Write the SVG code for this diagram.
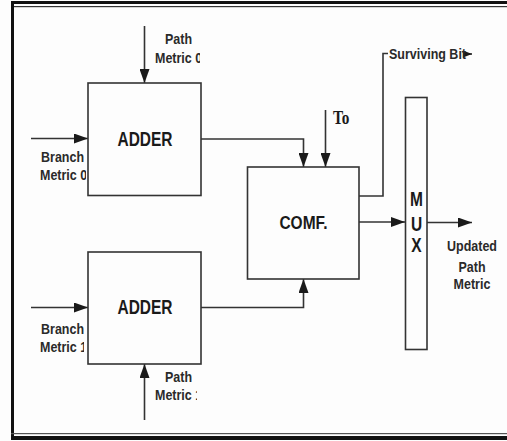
<svg xmlns="http://www.w3.org/2000/svg" width="507" height="441" viewBox="0 0 507 441">
<style>
.box{fill:none;stroke:#333;stroke-width:1.6}
.wire{fill:none;stroke:#333;stroke-width:1.6}
.lbl{font-family:"Liberation Sans",Arial,sans-serif;font-weight:bold;font-size:12.5px;fill:#2a2a2a}
.big{font-family:"Liberation Sans",Arial,sans-serif;font-weight:bold;font-size:15.5px;fill:#1a1a1a;text-anchor:middle}
.ser{font-family:"Liberation Serif","Times New Roman",serif;font-weight:bold;font-size:18px;fill:#1a1a1a}
</style>
<defs>
<marker id="ah" viewBox="0 0 14 10" markerWidth="14" markerHeight="10" refX="14" refY="5" orient="auto" markerUnits="userSpaceOnUse"><path d="M0,0 L14,5 L0,10 z" fill="#1a1a1a"/></marker>
<marker id="ahs" viewBox="0 0 9 7" markerWidth="9" markerHeight="7" refX="9" refY="3.5" orient="auto" markerUnits="userSpaceOnUse"><path d="M0,0 L9,3.5 L0,7 z" fill="#1a1a1a"/></marker>
<clipPath id="cPM0"><rect x="150" y="25" width="50" height="45"/></clipPath>
<clipPath id="cBM0"><rect x="30" y="145" width="56" height="45"/></clipPath>
<clipPath id="cBM1"><rect x="30" y="318" width="54" height="45"/></clipPath>
<clipPath id="cPM1"><rect x="150" y="368" width="47" height="45"/></clipPath>
</defs>
<rect width="507" height="441" fill="#fdfdfd"/>
<g id="frame">
<rect x="11" y="1" width="496" height="3" fill="#111"/>
<rect x="11" y="6" width="496" height="1.2" fill="#333"/>
<rect x="11" y="1" width="3" height="439" fill="#111"/>
<rect x="11" y="433" width="496" height="1.2" fill="#555"/>
<rect x="11" y="436" width="496" height="4" fill="#111"/>
</g>
<g id="connectors">
<line class="wire" x1="144.5" y1="26" x2="144.5" y2="83" marker-end="url(#ah)"/>
<line class="wire" x1="31" y1="138.5" x2="88" y2="138.5" marker-end="url(#ah)"/>
<polyline class="wire" points="201,139 303.5,139 303.5,167" marker-end="url(#ah)"/>
<line class="wire" x1="325.5" y1="110" x2="325.5" y2="167" marker-end="url(#ah)"/>
<line class="wire" x1="31" y1="307.5" x2="88" y2="307.5" marker-end="url(#ah)"/>
<line class="wire" x1="144.5" y1="420" x2="144.5" y2="364" marker-end="url(#ah)"/>
<polyline class="wire" points="201,307.5 303.5,307.5 303.5,279" marker-end="url(#ah)"/>
<polyline class="wire" points="359,196 383,196 383,53.5 388,53.5"/>
<line class="wire" x1="465" y1="54" x2="472" y2="54" marker-end="url(#ahs)"/>
<line class="wire" x1="359" y1="222" x2="405" y2="222" marker-end="url(#ah)"/>
<line class="wire" x1="427" y1="222.5" x2="472" y2="222.5" marker-end="url(#ah)"/>
</g>
<g id="adder0">
<rect class="box" x="88" y="83" width="113" height="112.5"/>
<text class="big" transform="translate(145,145.5) scale(1,1.25)">ADDER</text>
</g>
<g id="adder1">
<rect class="box" x="88" y="252" width="113" height="112"/>
<text class="big" transform="translate(145,313.5) scale(1,1.25)">ADDER</text>
</g>
<g id="comp">
<rect class="box" x="247.5" y="167" width="111.5" height="112"/>
<text class="big" font-size="16" transform="translate(303.5,228.5) scale(1,1.2)">COMF.</text>
</g>
<g id="mux">
<rect class="box" x="405.5" y="97.5" width="21.5" height="252"/>
<text class="big" transform="translate(416.5,205.5) scale(1,1.25)">M</text>
<text class="big" transform="translate(416.5,230.5) scale(1,1.25)">U</text>
<text class="big" transform="translate(416.5,251.5) scale(1,1.25)">X</text>
</g>
<g id="labels">
<g clip-path="url(#cPM0)">
<text class="lbl" transform="translate(165,43.5) scale(1,1.1)">Path</text>
<text class="lbl" transform="translate(155,63) scale(1,1.1)">Metric 0</text>
</g>
<g clip-path="url(#cBM0)">
<text class="lbl" transform="translate(41,162) scale(1,1.1)">Branch</text>
<text class="lbl" transform="translate(40,180) scale(1,1.1)">Metric 0</text>
</g>
<g clip-path="url(#cBM1)">
<text class="lbl" transform="translate(41,334) scale(1,1.1)">Branch</text>
<text class="lbl" transform="translate(40,352) scale(1,1.1)">Metric 1</text>
</g>
<g clip-path="url(#cPM1)">
<text class="lbl" transform="translate(165,382) scale(1,1.1)">Path</text>
<text class="lbl" transform="translate(155,400) scale(1,1.1)">Metric 1</text>
</g>
<text class="ser" transform="translate(333,124) scale(0.85,1)">To</text>
<text class="lbl" transform="translate(389,59) scale(1,1.1)">Surviving Bit</text>
<text class="lbl" text-anchor="middle" transform="translate(472,251) scale(1,1.1)">Updated</text>
<text class="lbl" text-anchor="middle" transform="translate(472,271.5) scale(1,1.1)">Path</text>
<text class="lbl" text-anchor="middle" transform="translate(472,289) scale(1,1.1)">Metric</text>
</g>
</svg>
